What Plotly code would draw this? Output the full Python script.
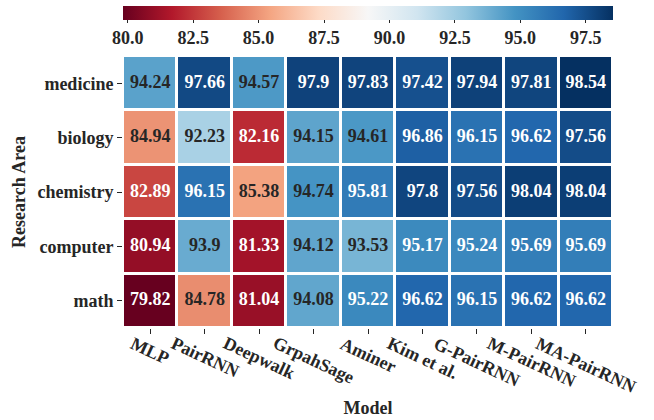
import plotly.graph_objects as go

# Accuracy (%) of each model on each research area
areas = ["medicine", "biology", "chemistry", "computer", "math"]
models = ["MLP", "PairRNN", "Deepwalk", "GrpahSage", "Aminer",
          "Kim et al.", "G-PairRNN", "M-PairRNN", "MA-PairRNN"]

medicine = [94.24, 97.66, 94.57, 97.9, 97.83, 97.42, 97.94, 97.81, 98.54]
biology = [84.94, 92.23, 82.16, 94.15, 94.61, 96.86, 96.15, 96.62, 97.56]
chemistry = [82.89, 96.15, 85.38, 94.74, 95.81, 97.8, 97.56, 98.04, 98.04]
computer = [80.94, 93.9, 81.33, 94.12, 93.53, 95.17, 95.24, 95.69, 95.69]
math = [79.82, 84.78, 81.04, 94.08, 95.22, 96.62, 96.15, 96.62, 96.62]

cbar_ticks = [80.0, 82.5, 85.0, 87.5, 90.0, 92.5, 95.0, 97.5]

z = [medicine, biology, chemistry, computer, math]

# ColorBrewer RdBu, reversed (low = red, high = blue)
rdbu_r = ["#67001f", "#b2182b", "#d6604d", "#f4a582", "#fddbc7", "#f7f7f7",
          "#d1e5f0", "#92c5de", "#4393c3", "#2166ac", "#053061"]
colorscale = [[i / (len(rdbu_r) - 1), c] for i, c in enumerate(rdbu_r)]

flat = [v for row in z for v in row]
zmin, zmax = min(flat), max(flat)

FONT = "Liberation Serif, Times New Roman, serif"
DARK = "#262626"


def hex_rgb(h):
    h = h.lstrip("#")
    return [int(h[i:i + 2], 16) for i in (0, 2, 4)]


def cell_color(v):
    t = (v - zmin) / (zmax - zmin) * (len(rdbu_r) - 1)
    i = min(int(t), len(rdbu_r) - 2)
    f = t - i
    a, b = hex_rgb(rdbu_r[i]), hex_rgb(rdbu_r[i + 1])
    return [a[k] + (b[k] - a[k]) * f for k in range(3)]


def luminance(rgb):
    out = []
    for c in rgb:
        c = c / 255
        out.append(c / 12.92 if c <= 0.03928 else ((c + 0.055) / 1.055) ** 2.4)
    return 0.2126 * out[0] + 0.7152 * out[1] + 0.0722 * out[2]


tx, ty, tt, tc = [], [], [], []
for r, area in enumerate(areas):
    for c, model in enumerate(models):
        v = z[r][c]
        tx.append(model)
        ty.append(area)
        tt.append(f"{v:g}")
        tc.append(DARK if luminance(cell_color(v)) > 0.26 else "white")

fig = go.Figure()
fig.add_trace(go.Heatmap(
    z=z, x=models, y=areas,
    colorscale=colorscale, zmin=zmin, zmax=zmax,
    xgap=3, ygap=3, hoverinfo="skip",
    colorbar=dict(
        orientation="h", x=0.5, xanchor="center", len=1, lenmode="fraction",
        y=1 + 50 / 272, yanchor="top", thickness=14,
        xpad=0, ypad=0, outlinewidth=0,
        tickvals=cbar_ticks, ticktext=[f"{t:.1f}" for t in cbar_ticks],
        ticks="outside", ticklen=3, tickwidth=1, tickcolor=DARK,
        tickfont=dict(family=FONT, size=18, color=DARK, weight="bold"),
    ),
))

fig.add_trace(go.Scatter(
    x=tx, y=ty, text=tt, mode="text",
    textfont=dict(family=FONT, size=18, color=tc, weight="bold"),
    hoverinfo="skip", showlegend=False,
))

# Rotated model names, centred under each column
for m in models:
    fig.add_annotation(
        x=m, xref="x", y=-5 / 272, yref="paper",
        text=m, textangle=25, showarrow=False,
        xanchor="center", yanchor="top", borderpad=0, borderwidth=0,
        font=dict(family=FONT, size=18, color=DARK, weight="bold"),
    )

fig.update_xaxes(
    range=[-0.5, len(models) - 0.5], autorange=False,
    showticklabels=False, ticks="outside", ticklen=5, tickwidth=1,
    tickcolor=DARK, showgrid=False, zeroline=False, showline=False,
    title=dict(text="Model", standoff=68,
               font=dict(family=FONT, size=18, color=DARK, weight="bold")),
)
fig.update_yaxes(
    range=[len(areas) - 0.5, -0.5], autorange=False,
    ticks="outside", ticklen=5, tickwidth=1,
    tickcolor=DARK, showgrid=False, zeroline=False, showline=False,
    tickfont=dict(family=FONT, size=18, color=DARK, weight="bold"),
    title=dict(text="Research Area", standoff=7,
               font=dict(family=FONT, size=18, color=DARK, weight="bold")),
)

fig.update_layout(
    width=654, height=420,
    margin=dict(l=123, r=41, t=56, b=92, autoexpand=False),
    paper_bgcolor="white", plot_bgcolor="white",
    showlegend=False,
)

fig.write_html("out.html")
